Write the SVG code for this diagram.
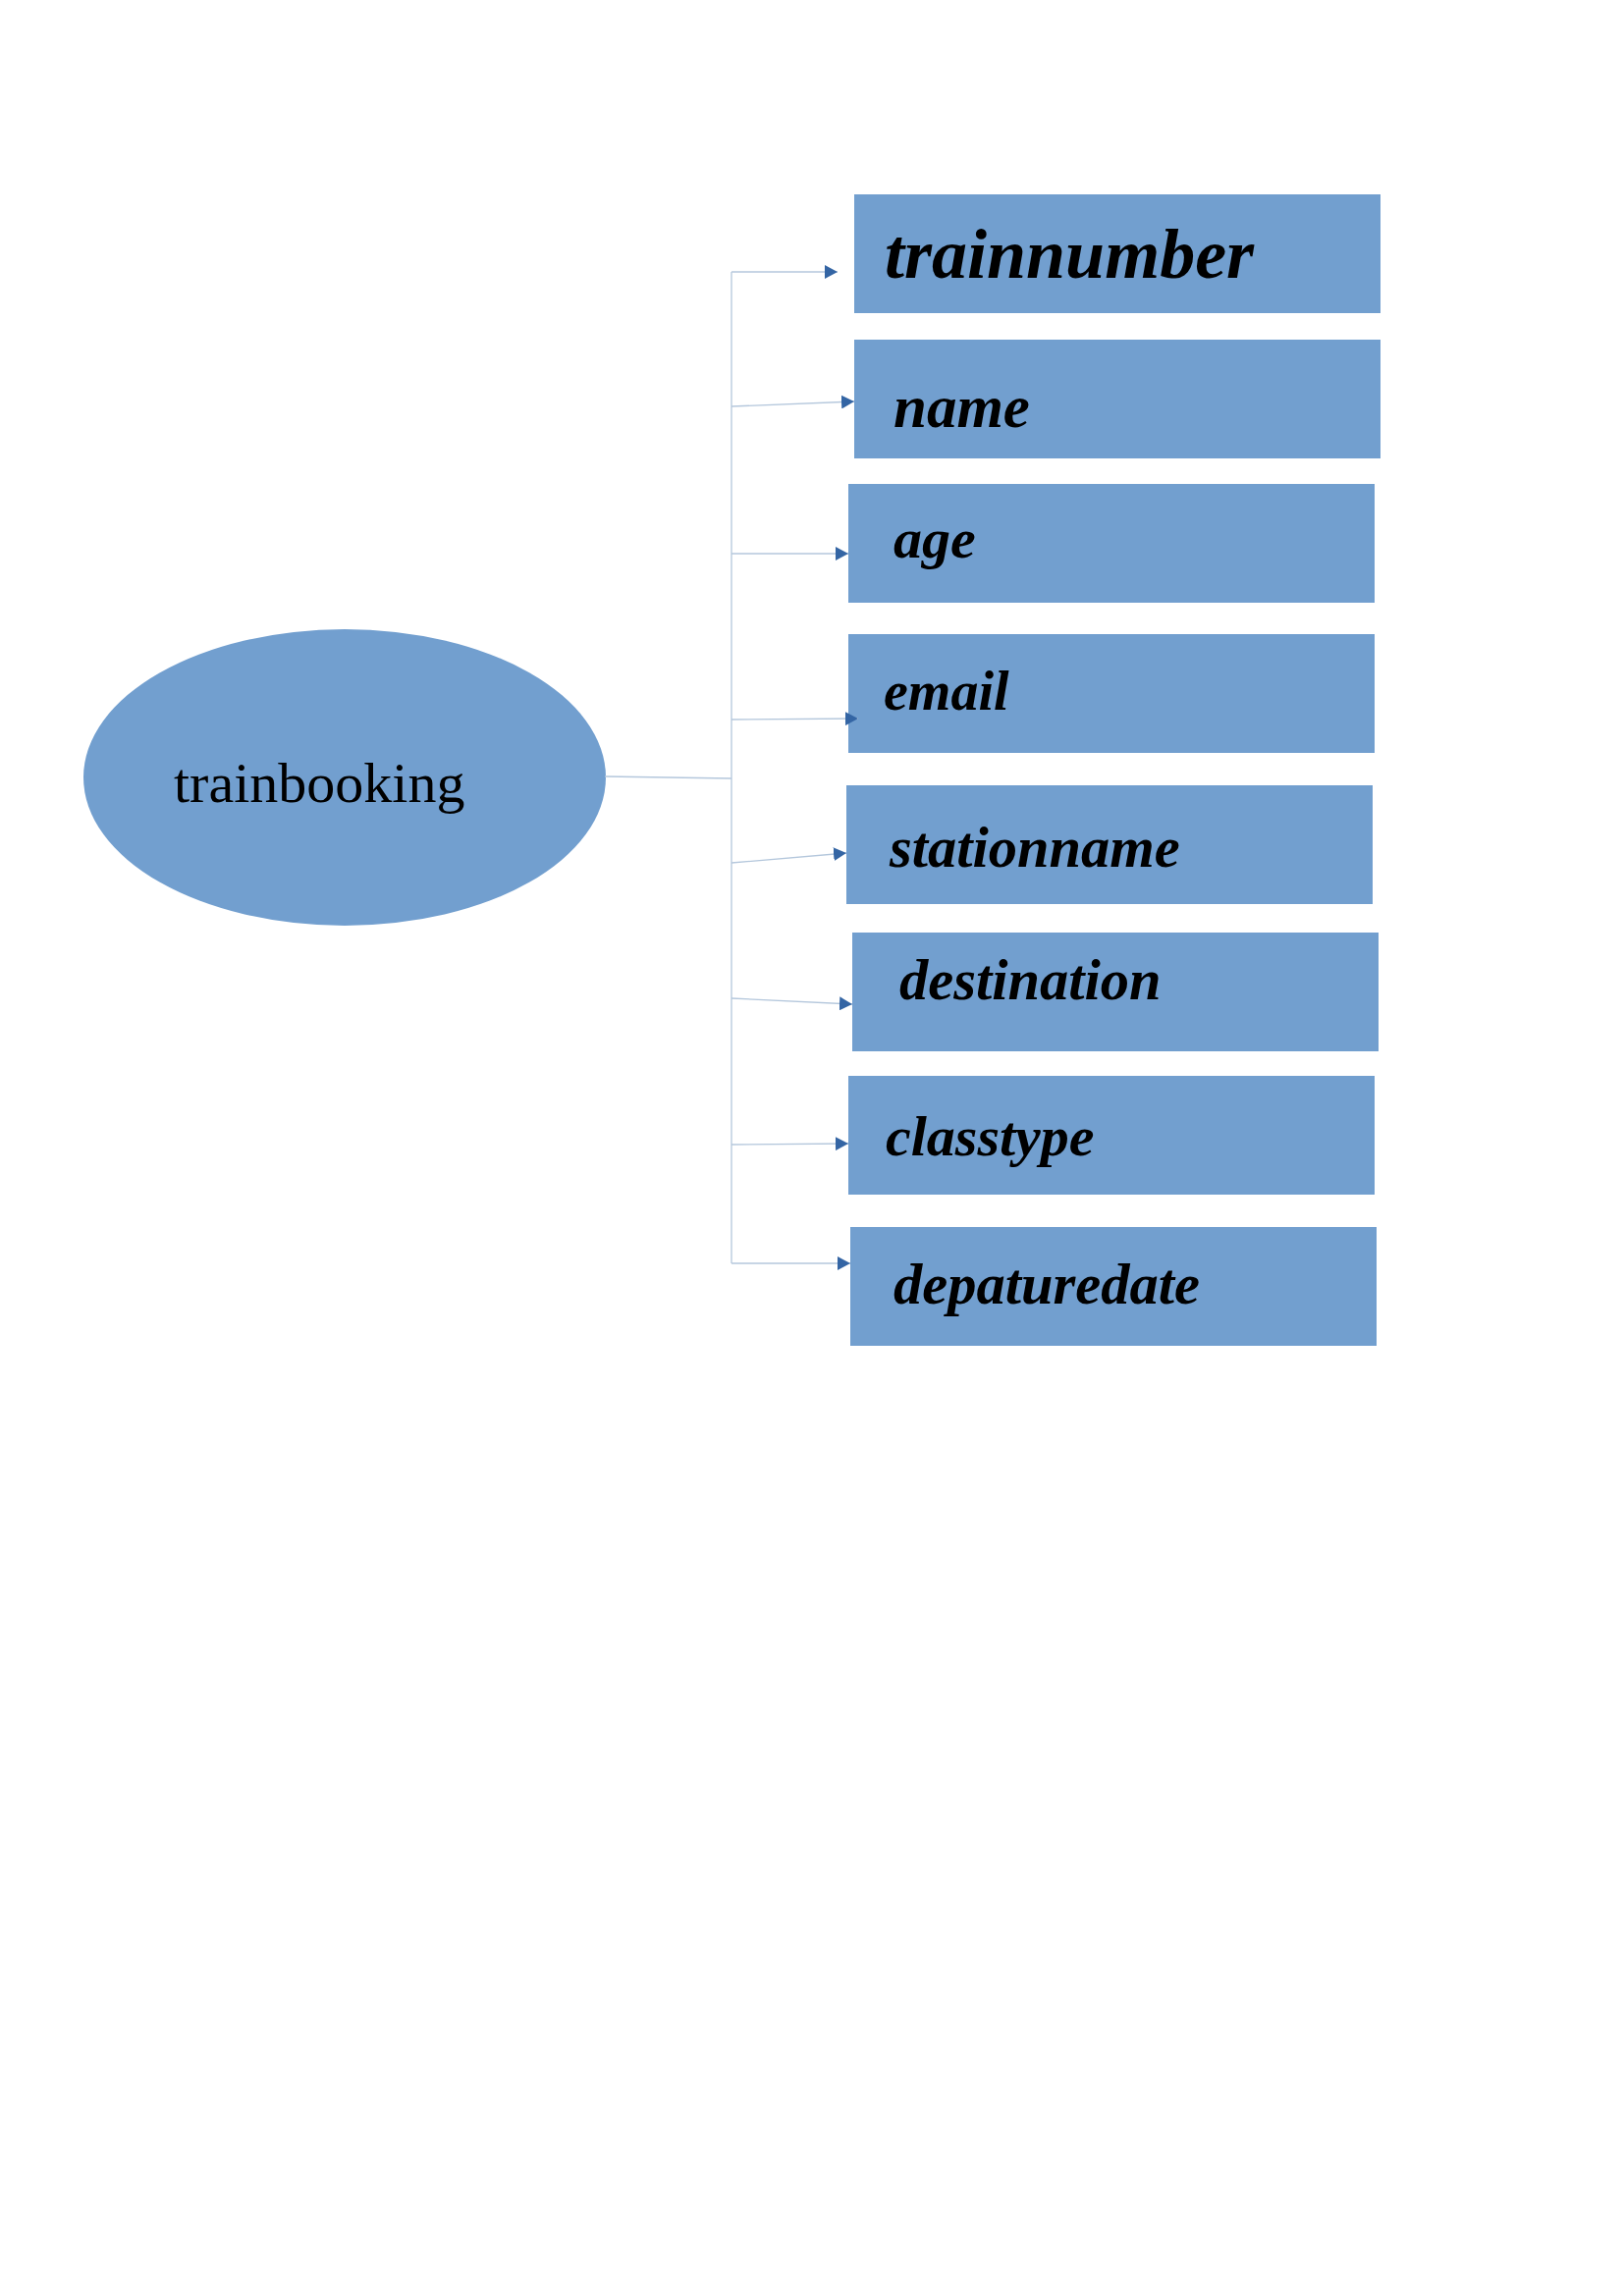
<svg xmlns="http://www.w3.org/2000/svg" width="1654" height="2339" viewBox="0 0 1654 2339">
<style>
.box{fill:#729fcf}
.lbl{font-family:"Liberation Serif",serif;font-weight:bold;font-style:italic;fill:#000}
.conn{fill:none;stroke:#b4c7dc;stroke-width:1.3}
</style>
<defs>
<marker id="ah" markerUnits="userSpaceOnUse" markerWidth="14" markerHeight="14" refX="13" refY="7" orient="auto">
<path d="M0,0 L13,7 L0,14 Z" fill="#3465a4"/>
</marker>
</defs>
<rect width="1654" height="2339" fill="#fff"/>
<g id="trainbooking">
<ellipse cx="351" cy="792" rx="266" ry="151" fill="#729fcf"/>
<text x="177" y="817" font-family="Liberation Serif, serif" font-size="58" fill="#000">trainbooking</text>
</g>
<g id="trainnumber"><rect class="box" x="870" y="198" width="536" height="121"/><text class="lbl" x="901" y="283" font-size="72">trainnumber</text></g>
<g id="name"><rect class="box" x="870" y="346" width="536" height="121"/><text class="lbl" x="910" y="435" font-size="61">name</text></g>
<g id="age"><rect class="box" x="864" y="493" width="536" height="121"/><text class="lbl" x="910" y="568" font-size="58">age</text></g>
<g id="email"><rect class="box" x="864" y="646" width="536" height="121"/><text class="lbl" x="900" y="723" font-size="56">email</text></g>
<g id="stationname"><rect class="box" x="862" y="800" width="536" height="121"/><text class="lbl" x="906" y="883" font-size="58.5">stationname</text></g>
<g id="destination"><rect class="box" x="868" y="950" width="536" height="121"/><text class="lbl" x="916" y="1018" font-size="58.5">destination</text></g>
<g id="classtype"><rect class="box" x="864" y="1096" width="536" height="121"/><text class="lbl" x="902" y="1177" font-size="58">classtype</text></g>
<g id="depaturedate"><rect class="box" x="866" y="1250" width="536" height="121"/><text class="lbl" x="910" y="1328" font-size="58.5">depaturedate</text></g>
<g id="connectors">
<path class="conn" d="M616,791 L745,793"/>
<path class="conn" d="M745,277 L745,1287"/>
<path class="conn" d="M745,277 L853,277" marker-end="url(#ah)"/>
<path class="conn" d="M745,414 L870,409" marker-end="url(#ah)"/>
<path class="conn" d="M745,564 L864,564" marker-end="url(#ah)"/>
<path class="conn" d="M745,733 L874,732" marker-end="url(#ah)"/>
<path class="conn" d="M745,879 L862,869" marker-end="url(#ah)"/>
<path class="conn" d="M745,1017 L868,1023" marker-end="url(#ah)"/>
<path class="conn" d="M745,1166 L864,1165" marker-end="url(#ah)"/>
<path class="conn" d="M745,1287 L866,1287" marker-end="url(#ah)"/>
</g>
</svg>
